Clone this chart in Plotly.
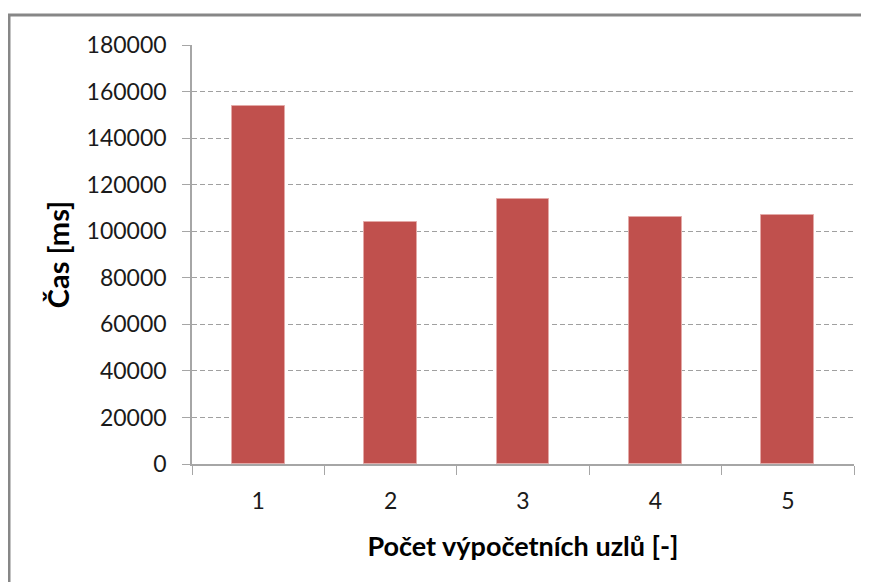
import plotly.graph_objects as go

categories = ["1", "2", "3", "4", "5"]
times_ms = [153800, 104000, 114000, 106200, 106800]
y_ticks = [0, 20000, 40000, 60000, 80000, 100000, 120000, 140000, 160000, 180000]

x_title = "Počet výpočetních uzlů [-]"
y_title = "Čas [ms]"

# the page body has an 8px margin, so the figure is sized to fill the 869x582 window
OFF = 8
W, H = 869 - OFF, 582 - OFF
L, R, T, B = 192 - OFF, 15, 45 - OFF, 118
pw, ph = W - L - R, H - T - B

fig = go.Figure(
    go.Bar(
        x=categories,
        y=times_ms,
        width=0.4,
        marker=dict(color="#c0504d", line=dict(color="#e3a9a7", width=1)),
    )
)

font_family = "Lato, 'Open Sans', sans-serif"

fig.update_layout(
    width=W,
    height=H,
    margin=dict(l=L, r=R, t=T, b=B, pad=0),
    paper_bgcolor="white",
    plot_bgcolor="white",
    showlegend=False,
    font=dict(family=font_family, size=23, color="#1a1a1a"),
    bargap=0,
)

fig.update_xaxes(
    type="category",
    range=[-0.5, 4.5],
    showline=True,
    linecolor="#a6a6a6",
    linewidth=1.5,
    ticks="outside",
    tickson="boundaries",
    ticklen=9,
    tickcolor="#a6a6a6",
    tickwidth=1,
    showgrid=False,
    ticklabelstandoff=16,
    title=dict(text="<b>" + x_title + "</b>", font=dict(size=27, color="#000000"), standoff=24),
)

fig.update_yaxes(
    range=[0, 180000],
    tickvals=y_ticks,
    ticktext=[str(v) for v in y_ticks],
    showline=True,
    linecolor="#a6a6a6",
    linewidth=1.5,
    ticks="outside",
    ticklen=8,
    tickcolor="#a6a6a6",
    tickwidth=1,
    showgrid=True,
    gridcolor="#a0a0a0",
    gridwidth=1,
    griddash="5px,3px",
    zeroline=False,
    ticklabelstandoff=11,
    title=dict(text="<b>" + y_title + "</b>", font=dict(size=29, color="#000000"), standoff=8),
)

# outer chart frame (reference: left edge x=9, top edge y=15 in window pixels)
fig.add_shape(
    type="rect",
    xref="paper",
    yref="paper",
    x0=(9 - OFF - L) / pw,
    x1=(W + 20 - L) / pw,
    y0=(H - B - (H + 20)) / ph,
    y1=(H - B - (15 - OFF)) / ph,
    line=dict(color="#878787", width=3),
    fillcolor="rgba(0,0,0,0)",
    layer="below",
)

fig.write_html("out.html")
